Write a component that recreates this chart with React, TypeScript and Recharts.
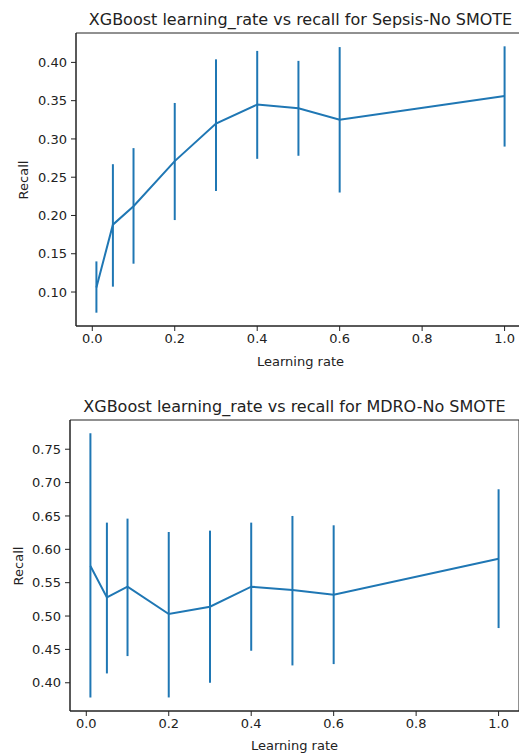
import React from 'react';
import {ComposedChart, ErrorBar, Line, ReferenceArea, XAxis, YAxis} from 'recharts';

const LEARNING_RATES = [0.01, 0.05, 0.1, 0.2, 0.3, 0.4, 0.5, 0.6, 1.0];

const SEPSIS_MEAN = [0.106, 0.188, 0.212, 0.271, 0.320, 0.345, 0.340, 0.325, 0.356];
const SEPSIS_LOW = [0.073, 0.107, 0.137, 0.194, 0.232, 0.274, 0.278, 0.230, 0.290];
const SEPSIS_HIGH = [0.140, 0.267, 0.288, 0.347, 0.404, 0.415, 0.402, 0.420, 0.421];

const MDRO_MEAN = [0.575, 0.528, 0.544, 0.503, 0.514, 0.544, 0.539, 0.532, 0.586];
const MDRO_LOW = [0.378, 0.414, 0.440, 0.378, 0.400, 0.448, 0.426, 0.428, 0.482];
const MDRO_HIGH = [0.774, 0.640, 0.646, 0.626, 0.628, 0.640, 0.650, 0.636, 0.690];

const X_TICKS = [0, 0.2, 0.4, 0.6, 0.8, 1.0];
const SEPSIS_Y_TICKS = [0.10, 0.15, 0.20, 0.25, 0.30, 0.35, 0.40];
const MDRO_Y_TICKS = [0.40, 0.45, 0.50, 0.55, 0.60, 0.65, 0.70, 0.75];

const BLUE = '#1f77b4';
const INK = '#222';
const FONT = '"DejaVu Sans", sans-serif';
const X_DOMAIN: [number, number] = [-0.0395, 1.0495];

const buildRows = (mean: number[], low: number[], high: number[]) =>
  LEARNING_RATES.map((lr, i) => ({
    lr,
    recall: mean[i],
    err: [mean[i] - low[i], high[i] - mean[i]],
  }));

interface PanelProps {
  title: string;
  top: number;
  width: number;
  height: number;
  margin: {top: number; right: number; left: number; bottom: number};
  yAxisWidth: number;
  xAxisHeight: number;
  xLabelOffset: number;
  yDomain: [number, number];
  yTicks: number[];
  rows: ReturnType<typeof buildRows>;
  ylabelX: number;
}

const Panel: React.FC<PanelProps> = ({title, top, width, height, margin, yAxisWidth, xAxisHeight, xLabelOffset, yDomain, yTicks, rows, ylabelX}) => {
  const plotLeft = margin.left + yAxisWidth;
  const plotRight = width - margin.right;
  const plotTop = margin.top;
  const plotBottom = height - xAxisHeight - margin.bottom;
  const tickStyle = {fontSize: 13, fill: INK, fontFamily: FONT};

  return (
    <div style={{position: 'absolute', left: 0, top, width, height}}>
      <div
        style={{
          position: 'absolute',
          left: plotLeft,
          width: plotRight - plotLeft,
          top: plotTop - 22,
          textAlign: 'center',
          fontFamily: FONT,
          fontSize: 16,
          color: INK,
          whiteSpace: 'nowrap',
          lineHeight: '18px',
        }}
      >
        {title}
      </div>
      <div
        style={{
          position: 'absolute',
          left: ylabelX,
          top: (plotTop + plotBottom) / 2,
          transform: 'translate(-50%, -50%) rotate(-90deg)',
          fontFamily: FONT,
          fontSize: 13,
          color: INK,
          whiteSpace: 'nowrap',
        }}
      >
        Recall
      </div>
      <ComposedChart width={width} height={height} data={rows} margin={margin}>
        <XAxis
          dataKey="lr"
          type="number"
          domain={X_DOMAIN}
          allowDataOverflow
          ticks={X_TICKS}
          interval={0}
          tickFormatter={(v: number) => v.toFixed(1)}
          tick={tickStyle}
          tickSize={5}
          tickMargin={3}
          stroke={INK}
          height={xAxisHeight}
          label={{value: 'Learning rate', position: 'insideBottom', offset: xLabelOffset, style: {...tickStyle}}}
        />
        <YAxis
          type="number"
          domain={yDomain}
          allowDataOverflow
          ticks={yTicks}
          interval={0}
          tickFormatter={(v: number) => v.toFixed(2)}
          tick={tickStyle}
          tickSize={5}
          tickMargin={4}
          stroke={INK}
          width={yAxisWidth}
        />
        <ReferenceArea
          x1={X_DOMAIN[0]}
          x2={X_DOMAIN[1]}
          y1={yDomain[0]}
          y2={yDomain[1]}
          fill="none"
          stroke={INK}
          strokeWidth={1}
        />
        <Line
          dataKey="recall"
          type="linear"
          stroke={BLUE}
          strokeWidth={2}
          dot={false}
          activeDot={false}
          isAnimationActive={false}
        >
          <ErrorBar dataKey="err" direction="y" width={0} stroke={BLUE} strokeWidth={2} isAnimationActive={false} />
        </Line>
      </ComposedChart>
    </div>
  );
};

export default function App() {
  const sepsisRows = buildRows(SEPSIS_MEAN, SEPSIS_LOW, SEPSIS_HIGH);
  const mdroRows = buildRows(MDRO_MEAN, MDRO_LOW, MDRO_HIGH);

  return (
    <div style={{position: 'fixed', left: 0, top: 0, width: 519, height: 753, overflow: 'hidden', background: '#fff'}}>
      <Panel
        title="XGBoost learning_rate vs recall for Sepsis-No SMOTE"
        top={0}
        width={530}
        height={376}
        margin={{top: 33, right: 5, left: 0, bottom: 0}}
        yAxisWidth={76}
        xAxisHeight={50}
        xLabelOffset={10}
        yDomain={[0.0556, 0.4384]}
        yTicks={SEPSIS_Y_TICKS}
        rows={sepsisRows}
        ylabelX={23}
      />
      <Panel
        title="XGBoost learning_rate vs recall for MDRO-No SMOTE"
        top={376}
        width={525}
        height={377}
        margin={{top: 44, right: 6, left: 0, bottom: 0}}
        yAxisWidth={70}
        xAxisHeight={42}
        xLabelOffset={3}
        yDomain={[0.3577, 0.7938]}
        yTicks={MDRO_Y_TICKS}
        rows={mdroRows}
        ylabelX={18}
      />
    </div>
  );
}
